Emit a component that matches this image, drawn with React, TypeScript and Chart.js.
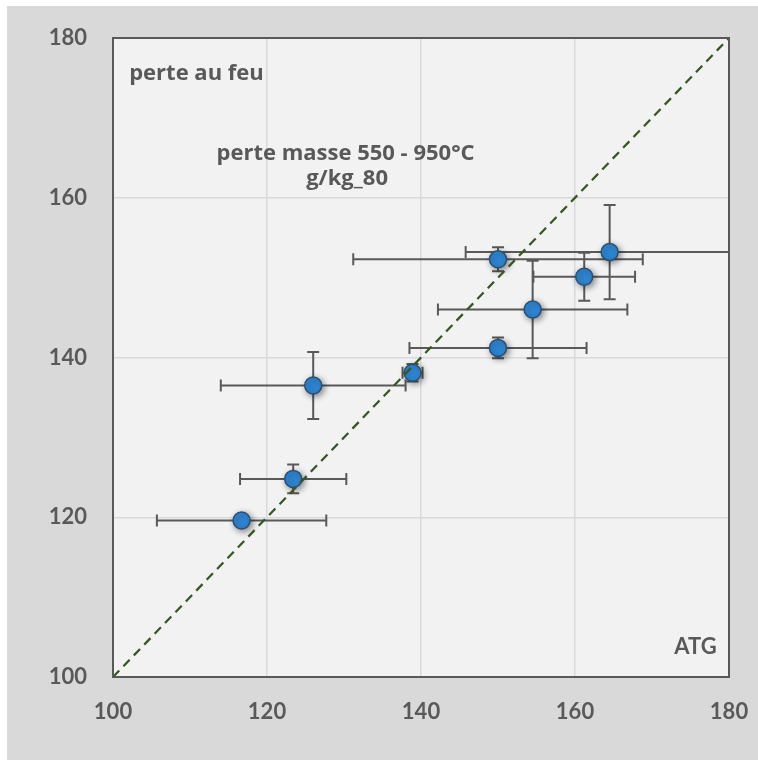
import React, { useEffect, useRef } from "react";
import { Chart, registerables } from "chart.js";

Chart.register(...registerables);

// ATG (x) vs perte au feu (y), g/kg
const atgValues = [116.7, 123.4, 126.0, 138.9, 150.0, 164.5, 161.2, 154.5, 150.0];
const pafValues = [119.6, 124.8, 136.5, 138.1, 152.3, 153.2, 150.1, 146.0, 141.2];
const atgErrors = [11.0, 6.9, 12.0, 1.3, 18.8, 18.7, 6.6, 12.3, 11.5];
const pafErrors = [0, 1.8, 4.2, 1.1, 1.5, 5.9, 3.0, 6.1, 1.3];
const identityLine = [100, 180];
const axisTicks = [100, 120, 140, 160, 180];

const labelTexts = ["perte au feu", "perte masse 550 - 950°C", "g/kg_80", "ATG"];
const labelX = [102.1, 130.2, 130.4, 178.4];
const labelY = [174.8, 164.7, 161.6, 102.9];
const labelAlign: CanvasTextAlign[] = ["left", "center", "center", "right"];
const labelFonts = [
  "bold 22px 'Open Sans', sans-serif",
  "bold 22px 'Open Sans', sans-serif",
  "bold 22px 'Open Sans', sans-serif",
  "bold 22px Lato, sans-serif",
];

const FONT = "Lato, 'Open Sans', sans-serif";
const TEXT_COLOR = "#595959";

const bgPlugin = {
  id: "plotBg",
  beforeDraw(chart: any) {
    const { ctx, chartArea } = chart;
    ctx.save();
    ctx.fillStyle = "#f2f2f2";
    ctx.fillRect(chartArea.left, chartArea.top, chartArea.right - chartArea.left, chartArea.bottom - chartArea.top);
    ctx.restore();
  },
};

const errorBarPlugin = {
  id: "errorBars",
  beforeDatasetsDraw(chart: any) {
    const { ctx, chartArea, scales } = chart;
    const xs = scales.x;
    const ys = scales.y;
    ctx.save();
    ctx.beginPath();
    ctx.rect(chartArea.left, chartArea.top, chartArea.right - chartArea.left, chartArea.bottom - chartArea.top);
    ctx.clip();
    ctx.strokeStyle = "#595959";
    ctx.lineWidth = 2;
    const cap = 6;
    for (let i = 0; i < atgValues.length; i++) {
      const px = xs.getPixelForValue(atgValues[i]);
      const py = ys.getPixelForValue(pafValues[i]);
      if (atgErrors[i] > 0) {
        const x1 = xs.getPixelForValue(atgValues[i] - atgErrors[i]);
        const x2 = xs.getPixelForValue(atgValues[i] + atgErrors[i]);
        ctx.beginPath();
        ctx.moveTo(x1, py);
        ctx.lineTo(x2, py);
        ctx.moveTo(x1, py - cap);
        ctx.lineTo(x1, py + cap);
        ctx.moveTo(x2, py - cap);
        ctx.lineTo(x2, py + cap);
        ctx.stroke();
      }
      if (pafErrors[i] > 0) {
        const y1 = ys.getPixelForValue(pafValues[i] - pafErrors[i]);
        const y2 = ys.getPixelForValue(pafValues[i] + pafErrors[i]);
        ctx.beginPath();
        ctx.moveTo(px, y1);
        ctx.lineTo(px, y2);
        ctx.moveTo(px - cap, y1);
        ctx.lineTo(px + cap, y1);
        ctx.moveTo(px - cap, y2);
        ctx.lineTo(px + cap, y2);
        ctx.stroke();
      }
    }
    ctx.restore();
  },
  beforeDatasetDraw(chart: any, args: any) {
    if (args.index === 1) {
      const ctx = chart.ctx;
      ctx.save();
      ctx.shadowColor = "rgba(0,0,0,0.45)";
      ctx.shadowBlur = 6;
      ctx.shadowOffsetX = 2;
      ctx.shadowOffsetY = 2;
    }
  },
  afterDatasetDraw(chart: any, args: any) {
    if (args.index === 1) chart.ctx.restore();
  },
};

const framePlugin = {
  id: "frameAndText",
  afterDraw(chart: any) {
    const { ctx, chartArea, scales } = chart;
    ctx.save();
    ctx.strokeStyle = "#595959";
    ctx.lineWidth = 2;
    ctx.strokeRect(chartArea.left, chartArea.top, chartArea.right - chartArea.left, chartArea.bottom - chartArea.top);
    ctx.fillStyle = TEXT_COLOR;
    ctx.textBaseline = "alphabetic";
    for (let i = 0; i < labelTexts.length; i++) {
      ctx.font = labelFonts[i];
      ctx.textAlign = labelAlign[i];
      ctx.fillText(labelTexts[i], scales.x.getPixelForValue(labelX[i]), scales.y.getPixelForValue(labelY[i]));
    }
    ctx.restore();
  },
};

export default function App() {
  const ref = useRef<HTMLCanvasElement | null>(null);
  useEffect(() => {
    if (!ref.current) return;
    const chart = new Chart(ref.current, {
      type: "scatter",
      data: {
        datasets: [
          {
            type: "line",
            label: "1:1",
            data: identityLine.map((v) => ({ x: v, y: v })),
            borderColor: "#375623",
            borderWidth: 2.25,
            borderDash: [9, 6],
            pointRadius: 0,
            fill: false,
            order: 0,
          } as any,
          {
            label: "perte au feu",
            data: atgValues.map((v, i) => ({ x: v, y: pafValues[i] })),
            backgroundColor: "#2f86d4",
            borderColor: "#2b4f73",
            borderWidth: 1.5,
            pointRadius: 8.5,
            pointHoverRadius: 8.5,
            order: 1,
          },
        ],
      },
      options: {
        responsive: false,
        animation: false,
        events: [],
        layout: { padding: { left: 0, top: 32, right: 29, bottom: 0 } },
        plugins: { legend: { display: false }, tooltip: { enabled: false } },
        scales: {
          x: {
            type: "linear",
            min: 100,
            max: 180,
            afterBuildTicks: (s: any) => {
              s.ticks = axisTicks.map((v) => ({ value: v }));
            },
            afterFit: (s: any) => {
              s.height = 83;
              s.paddingLeft = 0;
              s.paddingRight = 0;
              s.paddingTop = 0;
              s.paddingBottom = 0;
            },
            grid: { color: "#d9d9d9", lineWidth: 1.5, drawTicks: false },
            border: { display: false },
            ticks: {
              padding: 22,
              color: TEXT_COLOR,
              font: { family: FONT, size: 22, weight: "bold" },
            },
          },
          y: {
            type: "linear",
            min: 100,
            max: 180,
            afterBuildTicks: (s: any) => {
              s.ticks = axisTicks.map((v) => ({ value: v }));
            },
            afterFit: (s: any) => {
              s.width = 106;
              s.paddingLeft = 0;
              s.paddingRight = 0;
              s.paddingTop = 0;
              s.paddingBottom = 0;
            },
            grid: { color: "#d9d9d9", lineWidth: 1.5, drawTicks: false },
            border: { display: false },
            ticks: {
              padding: 26,
              color: TEXT_COLOR,
              font: { family: FONT, size: 22, weight: "bold" },
            },
          },
        },
      },
      plugins: [bgPlugin, errorBarPlugin, framePlugin],
    });
    return () => chart.destroy();
  }, []);

  return (
    <div style={{ position: "absolute", left: 7, top: 6, width: 751, height: 754, background: "#d9d9d9" }}>
      <canvas ref={ref} width={751} height={754} style={{ display: "block", width: 751, height: 754 }} />
    </div>
  );
}
